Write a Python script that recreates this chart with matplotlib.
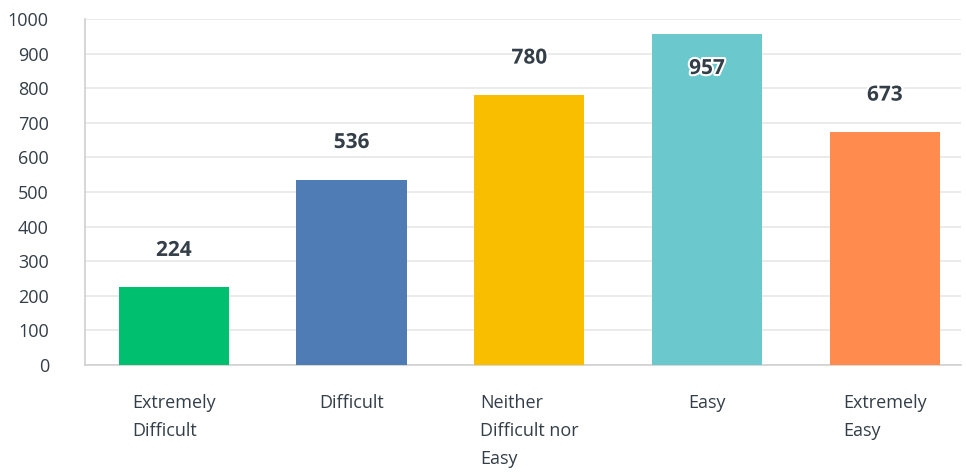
import matplotlib
matplotlib.use("Agg")
import matplotlib.pyplot as plt
import matplotlib.patheffects as pe
import matplotlib.transforms as mtransforms

# data
categories = ["Extremely\nDifficult", "Difficult", "Neither\nDifficult nor\nEasy", "Easy", "Extremely\nEasy"]
values = [224, 536, 780, 957, 673]
colors = ["#00BF6F", "#507CB6", "#F9BE00", "#6BC8CD", "#FF8B4F"]
yticks = [0, 100, 200, 300, 400, 500, 600, 700, 800, 900, 1000]

plt.rcParams['font.family'] = ['Open Sans', 'DejaVu Sans']
text_color = "#333E48"

fig = plt.figure(figsize=(9.66, 4.75), dpi=100)
ax = fig.add_axes([0.088, 0.2316, 0.907, 0.7284])

x = list(range(len(categories)))
ax.bar(x, values, width=0.62, color=colors, zorder=3)

ax.set_xlim(-0.5, 4.43)
ax.set_ylim(0, 1000)
ax.set_yticks(yticks)
ax.set_yticklabels([str(t) for t in yticks], fontsize=13, color=text_color)
ax.tick_params(axis="y", length=0, pad=26)
ax.set_xticks([])
ax.grid(axis="y", color="#E8E8E8", linewidth=1.2, zorder=0)

for side in ["top", "right"]:
    ax.spines[side].set_visible(False)
for side in ["left", "bottom"]:
    ax.spines[side].set_color("#D0D0D0")
    ax.spines[side].set_linewidth(1.2)

# value labels
for xi, v in zip(x, values):
    ylab = v + 107 if v + 160 <= 1000 else v - 100
    ax.text(xi, ylab, str(v), ha="center", va="center", fontsize=15,
            fontweight="bold", color=text_color, zorder=4,
            path_effects=[pe.withStroke(linewidth=3, foreground="white")])

# category labels, block centred under bars, lines left aligned
trans = mtransforms.blended_transform_factory(ax.transData, ax.transAxes)
for xi, lab in zip(x, categories):
    ax.text(xi, -0.085, lab, transform=trans, ha="center", va="top",
            multialignment="left", fontsize=13, color=text_color,
            linespacing=1.7)

fig.savefig("out.png", dpi=100)
